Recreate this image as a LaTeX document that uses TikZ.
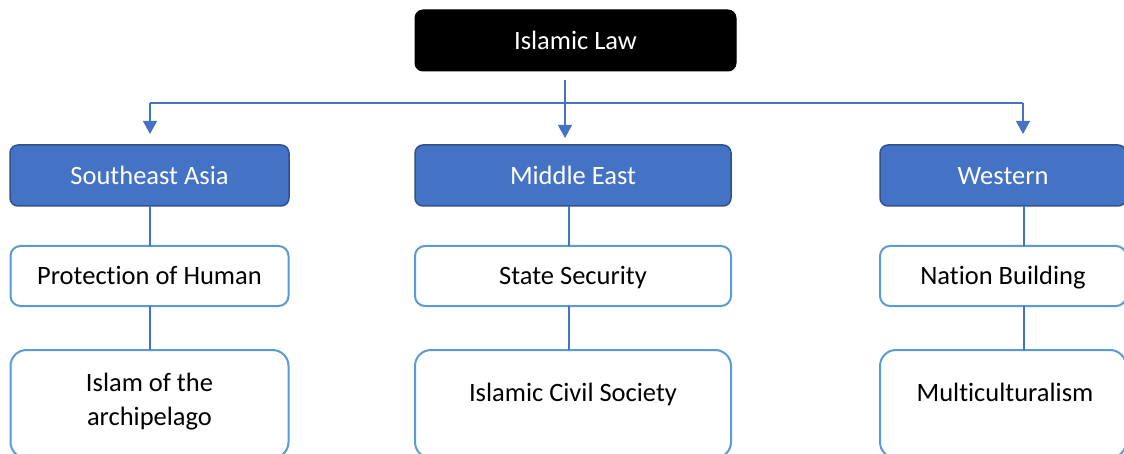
\documentclass[tikz,border=0pt]{standalone}
\usepackage{fontspec}
\setmainfont{Carlito}[Ligatures={NoCommon}]
\usetikzlibrary{arrows.meta,calc}
\definecolor{accent}{HTML}{4472C4}
\definecolor{accentdark}{HTML}{2F528F}
\definecolor{lightline}{HTML}{5B9BD5}
\begin{document}
\begin{tikzpicture}[x=1pt,y=-1pt,
  every node/.style={inner sep=0pt,outer sep=0pt,font=\fontsize{26.5}{32}\selectfont,text height=19pt,text depth=1pt},
  rootbox/.style={draw=black,fill=black,text=white,rounded corners=8pt,line width=1pt},
  regionbox/.style={draw=accentdark,fill=accent,text=white,rounded corners=8pt,line width=1.5pt},
  themebox/.style={draw=lightline,fill=white,text=black,rounded corners=10pt,line width=2pt},
  deepbox/.style={draw=lightline,fill=white,rounded corners=16pt,line width=2pt},
  conn/.style={draw=accent,line width=1.2pt},
  arr/.style={conn,-{Triangle[width=14pt,length=13pt]}}]
\useasboundingbox (0,0) rectangle (1124,454);
\clip (0,0) rectangle (1124,454);
% root
\node[rootbox,minimum width=321pt,minimum height=61pt] (law) at (575.5,40.5) {Islamic Law};
% regions
\node[regionbox,minimum width=279pt,minimum height=61pt] (sea) at (149.5,175.5) {Southeast Asia};
\node[regionbox,minimum width=316pt,minimum height=61pt] (me) at (573,175.5) {Middle East};
\node[regionbox,minimum width=246pt,minimum height=61pt] (west) at (1003,175.5) {Western};
% themes
\node[themebox,minimum width=278pt,minimum height=60pt] (prot) at (149.5,276) {Protection of Human};
\node[themebox,minimum width=316pt,minimum height=60pt] (sec) at (573,276) {State Security};
\node[themebox,minimum width=246pt,minimum height=60pt] (nat) at (1003,276) {Nation Building};
% deep boxes
\node[deepbox,minimum width=278pt,minimum height=108pt] (arch) at (149.5,404) {};
\node[deepbox,minimum width=316pt,minimum height=108pt] (civ) at (573,404) {};
\node[deepbox,minimum width=246pt,minimum height=108pt] (multi) at (1003,404) {};
\node[align=center,font=\fontsize{26.5}{34}\selectfont,text height=,text depth=] (archtxt) at (149.5,402) {Islam of the\\archipelago};
\node (civtxt) at (573,392) {Islamic Civil Society};
\node (multitxt) at (1005,392) {Multiculturalism};
% connectors from root
\coordinate (top) at (565,80);
\coordinate (hubL) at (150,103);
\coordinate (hubR) at (1023,103);
\coordinate (tipL) at (150,134);
\coordinate (tipM) at (565,138);
\coordinate (tipR) at (1023,134);
\draw[arr] (top) -- (tipM);
\draw[conn] (hubL) -- (hubR);
\draw[arr] (hubL) -- (tipL);
\draw[arr] (hubR) -- (tipR);
% vertical links
\draw[conn] (sea.south -| hubL) -- (prot.north -| hubL);
\draw[conn] (prot.south -| hubL) -- (arch.north -| hubL);
\draw[conn] ($(me.south)+(-4,0)$) -- ($(sec.north)+(-4,0)$);
\draw[conn] ($(sec.south)+(-4,0)$) -- ($(civ.north)+(-4,0)$);
\draw[conn] ($(west.south)+(21,0)$) -- ($(nat.north)+(21,0)$);
\draw[conn] ($(nat.south)+(21,0)$) -- ($(multi.north)+(21,0)$);
\end{tikzpicture}
\end{document}
